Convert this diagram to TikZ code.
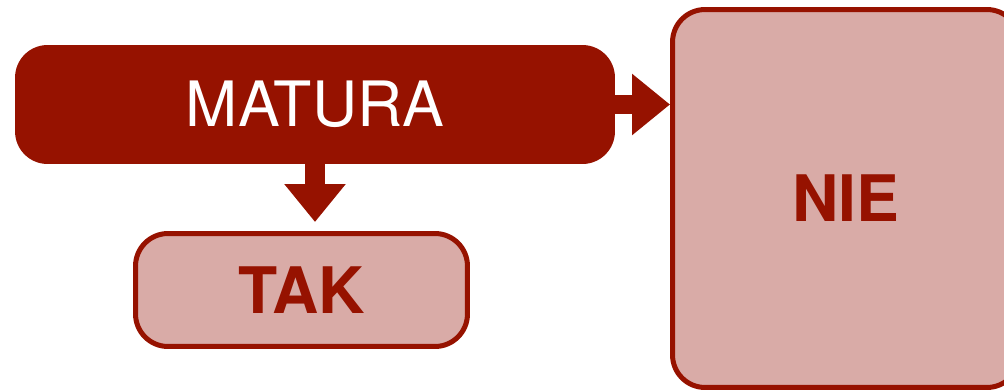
\documentclass[tikz,border=0pt]{standalone}
\usepackage{fontspec}
\setmainfont{TeX Gyre Heros}
\usepackage{tikz}
\usetikzlibrary{arrows.meta}
\definecolor{darkred}{RGB}{150,18,0}
\definecolor{lightred}{RGB}{217,171,167}

\tikzset{
  answer/.style={draw=darkred, fill=lightred, line width=0.1cm, rounded corners=0.65cm,
    inner sep=0pt, text=darkred, font=\fontsize{36.5}{40}\selectfont\bfseries},
  fatarrow/.style={darkred, line width=0.4cm, -{Triangle[length=0.76cm, width=1.18cm]}},
}

\begin{document}
\begin{tikzpicture}[x=0.02cm, y=-0.02cm]
\clip (0,0) rectangle (1004,392);
\node[fill=darkred, rounded corners=0.65cm, inner sep=0pt, outer sep=0pt,
  minimum width=12cm, minimum height=2.38cm, text=white,
  font=\fontsize{35.6}{40}\selectfont] (matura) at (315,104.5) {MATURA};
\node[answer, minimum width=6.64cm, minimum height=2.26cm] (tak) at (301.5,290) {TAK};
\node[answer, minimum width=6.94cm, minimum height=7.56cm] (nie) at (846,198.5) {NIE};
\draw[fatarrow] (matura.east) -- (matura.east -| nie.west);
\draw[fatarrow] (matura.south) -- ([yshift=0.18cm]matura.south |- tak.north);
\end{tikzpicture}
\end{document}
